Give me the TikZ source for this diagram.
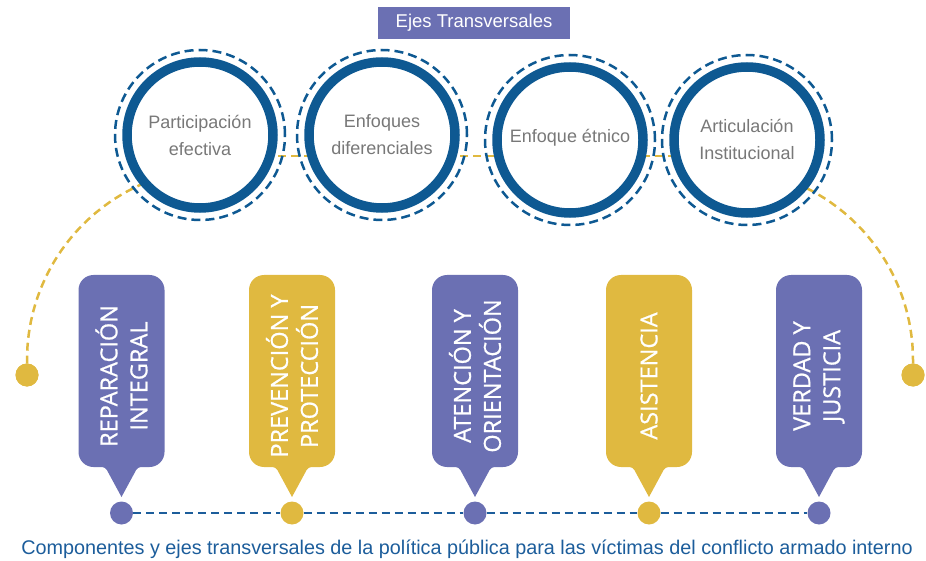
\documentclass[tikz,border=0pt]{standalone}
\usepackage{fontspec}
\setmainfont{Liberation Sans}
\newfontfamily\boxfont[FakeBold=0.8]{Open Sans}
\definecolor{purp}{RGB}{107,112,179}
\definecolor{yell}{RGB}{224,185,64}
\definecolor{ringblue}{RGB}{14,89,146}
\definecolor{capblue}{RGB}{28,93,155}
\definecolor{txtgray}{RGB}{120,120,120}
\tikzset{
  ydash/.style={draw=yell, line width=2.5pt, dash pattern=on 8pt off 5pt},
  bdash/.style={draw=capblue, line width=2.5pt, dash pattern=on 8pt off 5pt},
  ringdash/.style={draw=ringblue, line width=2.5pt, dash pattern=on 9pt off 5pt},
  ring/.style={draw=ringblue, line width=9.5pt, fill=white},
  ctext/.style={text=txtgray, align=center, font=\fontsize{18}{27}\selectfont},
  btext/.style={text=white, align=center, rotate=90, font=\boxfont\fontsize{23.5}{30}\selectfont},
  enddot/.style={circle, fill=yell, minimum size=23pt, inner sep=0pt},
  pdot/.style={circle, fill=#1, minimum size=23pt, inner sep=0pt},
}
\newcommand{\bubble}[3]{%
  \fill[#2, rounded corners=15pt] (#1-43,-467) rectangle (#1+43,-275);
  \fill[#2] (#1-26,-466) .. controls (#1-16,-466) and (#1-15,-469) .. (#1-13,-473)
     -- (#1,-497) -- (#1+13,-473) .. controls (#1+15,-469) and (#1+16,-466) .. (#1+26,-466) -- cycle;
}
\begin{document}
\begin{tikzpicture}[x=1pt,y=1pt]
\useasboundingbox (0,0) rectangle (926,-561);
% title
\node[fill=purp, minimum width=192pt, minimum height=32pt, inner sep=0pt, text=white,
  font=\fontsize{18.5}{22}\selectfont] (title) at (474,-23) {Ejes Transversales};
% end dots
\node[enddot] (ldot) at (27,-375) {};
\node[enddot] (rdot) at (913,-375) {};
% circle centres
\coordinate (c1) at (200,-135);
\coordinate (c2) at (382,-135);
\coordinate (c3) at (570,-140);
\coordinate (c4) at (747,-140);
% yellow connectors
\draw[ydash] (200,-156) -- (747,-156);
\draw[ydash] plot[domain=105:180, samples=40, variable=\t] ({219+192*cos(\t)},{-360+192*sin(\t)}) -- (ldot.center);
\draw[ydash] plot[domain=75:0, samples=40, variable=\t] ({721+192*cos(\t)},{-360+192*sin(\t)}) -- (rdot.center);
\node[enddot] at (ldot) {};
\node[enddot] at (rdot) {};
% circles
\foreach \c in {c1,c2,c3,c4}{
  \draw[ringdash] (\c) circle[radius=85pt];
  \draw[ring] (\c) circle[radius=73pt];
}
\node[ctext] (t1) at (200,-135) {Participación\\efectiva};
\node[ctext] (t2) at (382,-135) {Enfoques\\diferenciales};
\node[ctext] (t3) at (570,-138) {Enfoque étnico};
\node[ctext] (t4) at (747,-139) {Articulación\\Institucional};
% bubbles
\bubble{121.5}{purp}{}
\bubble{292}{yell}{}
\bubble{475}{purp}{}
\bubble{649}{yell}{}
\bubble{819}{purp}{}
\node[btext] (b1) at (121.5,-376) {REPARACIÓN\\INTEGRAL};
\node[btext] (b2) at (292,-376) {PREVENCIÓN Y\\PROTECCIÓN};
\node[btext] (b3) at (475,-376) {ATENCIÓN Y\\ORIENTACIÓN};
\node[btext] (b4) at (649,-376) {ASISTENCIA};
\node[btext] (b5) at (819,-376) {VERDAD Y\\JUSTICIA};
% bottom dots
\node[pdot=purp] (d1) at (121.5,-513) {};
\node[pdot=yell] (d2) at (292,-513) {};
\node[pdot=purp] (d3) at (475,-513) {};
\node[pdot=yell] (d4) at (649,-513) {};
\node[pdot=purp] (d5) at (819,-513) {};
\draw[bdash] (d1) -- (d2);
\draw[bdash] (d2) -- (d3);
\draw[bdash] (d3) -- (d4);
\draw[bdash] (d4) -- (d5);
% caption
\node[text=capblue, font=\fontsize{19.8}{22}\selectfont, inner sep=0pt] (cap) at (467,-549)
  {Componentes y ejes transversales de la política pública para las víctimas del conflicto armado interno};
\end{tikzpicture}
\end{document}
